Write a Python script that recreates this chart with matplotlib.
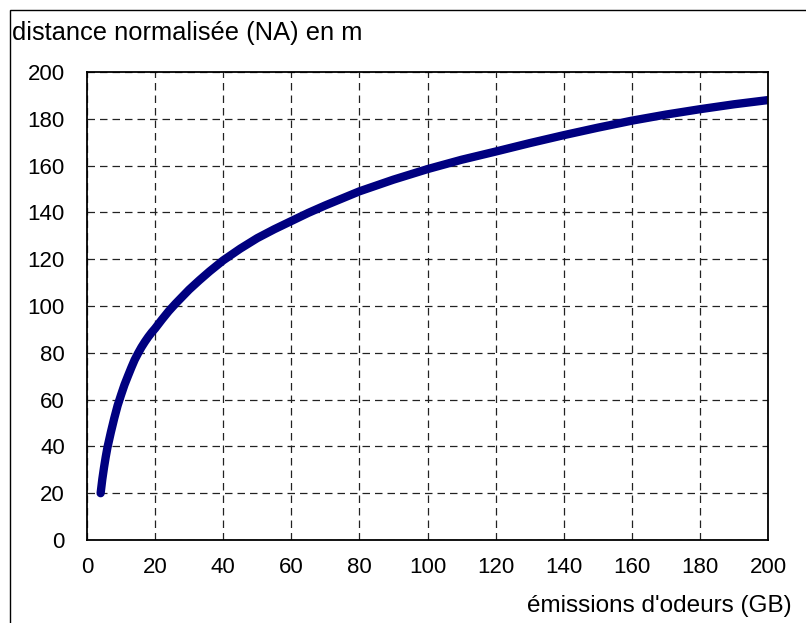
import matplotlib.pyplot as plt
from matplotlib.patches import Rectangle

plt.rcParams['font.family'] = ['Liberation Sans', 'DejaVu Sans']

# values
emissions = [4, 4.5, 5, 5.5, 6, 7, 8, 9, 10, 11, 12, 13, 14, 15, 16, 17, 18,
             19, 20, 22, 24, 26, 28, 30, 33, 36, 40, 45, 50, 55, 60, 65, 70,
             75, 80, 90, 100, 110, 120, 130, 140, 150, 160, 170, 180, 190, 200]
distance = [20, 26, 31, 35.5, 39.5, 46, 52, 57.5, 62, 66.3, 70, 73.6, 77,
            79.8, 82.4, 84.7, 86.8, 88.7, 90.4, 94.2, 97.8, 101, 104, 107,
            111, 114.8, 119.5, 124.5, 129, 132.8, 136.3, 139.8, 143, 146,
            149, 154, 158.5, 162.5, 166, 169.6, 173, 176.2, 179.2, 181.8,
            184.1, 186.2, 188]

x_ticks = list(range(0, 201, 20))
y_ticks = list(range(0, 201, 20))

fig = plt.figure(figsize=(8.06, 6.23), dpi=100)
W, H = 806, 623

# outer frame (left and top edges visible)
fig.patches.append(Rectangle((10 / W, -0.1), 1.2, 1 - 10 / H + 0.1,
                             transform=fig.transFigure, fill=False,
                             edgecolor='black', linewidth=1.0))

ax = fig.add_axes([87 / W, 1 - 540 / H, 681 / W, 468 / H])
ax.plot(emissions, distance, color='#000080', linewidth=6,
        solid_capstyle='round', solid_joinstyle='round')

ax.set_xlim(0, 200)
ax.set_ylim(0, 200)
ax.set_xticks(x_ticks)
ax.set_yticks(y_ticks)
ax.tick_params(length=0, labelsize=16, pad=12)
ax.tick_params(axis='y', pad=16)
ax.grid(True, color='#222222', linestyle=(0, (6, 4)), linewidth=0.9)
for s in ax.spines.values():
    s.set_linewidth(1.3)
    s.set_color('black')

fig.text(12 / W, 1 - 33 / H, 'distance normalisée (NA) en m', fontsize=18.4,
         ha='left', va='center')
fig.text(792 / W, 1 - 606 / H, "émissions d'odeurs (GB)", fontsize=17.5,
         ha='right', va='center')

fig.savefig('out.png', dpi=100)
